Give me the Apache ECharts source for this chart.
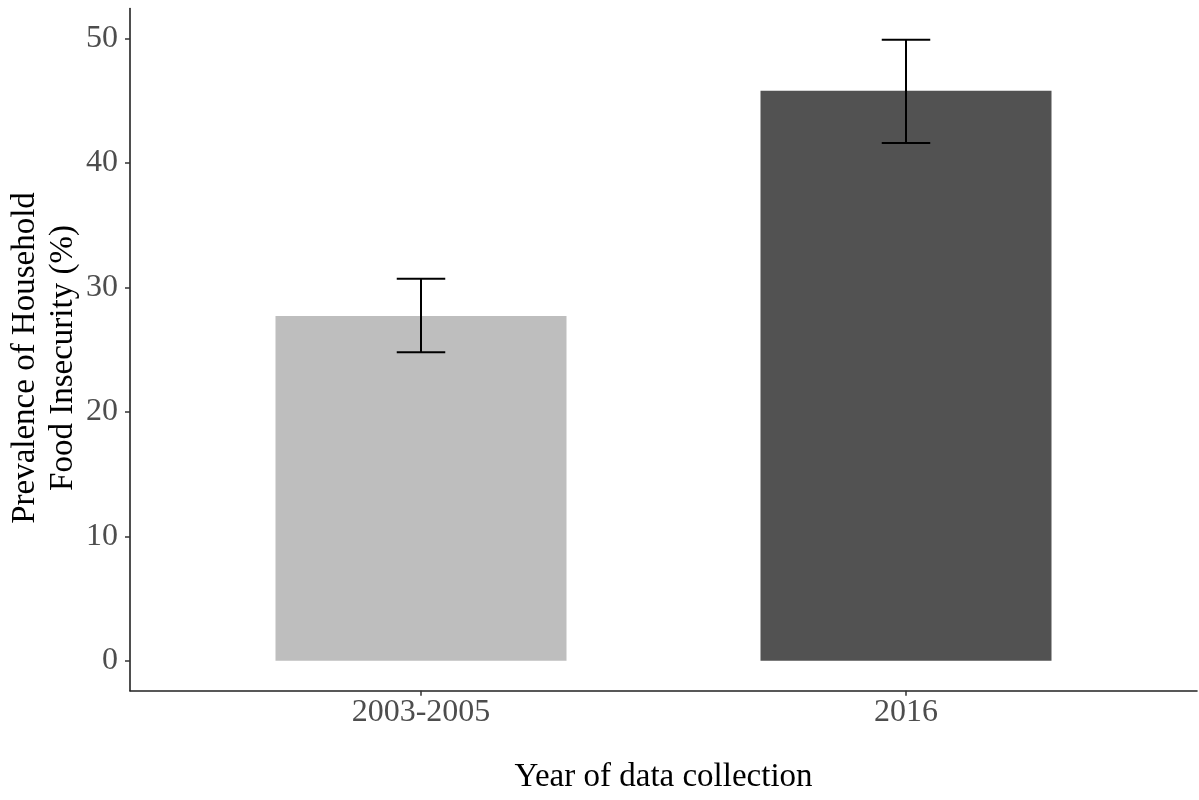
<!DOCTYPE html>
<html>
<head>
<meta charset="utf-8">
<script src="https://cdn.jsdelivr.net/npm/echarts@6/dist/echarts.min.js"></script>
<style>html,body{margin:0;padding:0;background:#fff}#c{width:1199px;height:800px}</style>
</head>
<body>
<div id="c"></div>
<script>
const categories = ['2003-2005', '2016'];
const values = [27.7, 45.8];
const errLow = [24.8, 41.6];
const errHigh = [30.7, 49.9];
const barColors = ['#bebebe', '#525252'];
const yTicks = [0, 10, 20, 30, 40, 50];
const xTitle = 'Year of data collection';
const yTitle = 'Prevalence of Household\nFood Insecurity (%)';

const chart = echarts.init(document.getElementById('c'));
const font = '"Liberation Serif", "Times New Roman", serif';
const xPos = categories.map((_, i) => i + 1);

chart.setOption({
  animation: false,
  backgroundColor: '#ffffff',
  grid: { left: 130, right: 2, top: 8.6, bottom: 109.3 },
  xAxis: {
    type: 'value', min: 0.4, max: 2.6,
    splitLine: { show: false },
    axisLine: { show: true, onZero: false, lineStyle: { color: '#222', width: 1.6 } },
    axisTick: { show: true, length: 5, customValues: xPos, lineStyle: { color: '#333', width: 1.5 } },
    axisLabel: {
      customValues: xPos, margin: 6, color: '#4d4d4d', fontFamily: font, fontSize: 32,
      formatter: v => categories[Math.round(v) - 1] || ''
    }
  },
  yAxis: {
    type: 'value', min: -2.4, max: 52.4,
    splitLine: { show: false },
    axisLine: { show: true, onZero: false, lineStyle: { color: '#222', width: 1.6 } },
    axisTick: { show: true, length: 5, customValues: yTicks, lineStyle: { color: '#333', width: 1.5 } },
    axisLabel: { customValues: yTicks, margin: 12, color: '#4d4d4d', fontFamily: font, fontSize: 32 }
  },
  series: [
    {
      type: 'bar',
      barWidth: 291,
      data: values.map((v, i) => ({ value: [xPos[i], v], itemStyle: { color: barColors[i] } }))
    },
    {
      type: 'custom',
      z: 5,
      data: values.map((v, i) => [xPos[i], errLow[i], errHigh[i]]),
      renderItem: function (params, api) {
        const x = api.value(0);
        const lo = api.coord([x, api.value(1)]);
        const hi = api.coord([x, api.value(2)]);
        const half = api.size([0.1, 0])[0] / 2;
        const st = { stroke: '#000', lineWidth: 2 };
        return {
          type: 'group',
          children: [
            { type: 'line', shape: { x1: lo[0], y1: lo[1], x2: hi[0], y2: hi[1] }, style: st },
            { type: 'line', shape: { x1: hi[0] - half, y1: hi[1], x2: hi[0] + half, y2: hi[1] }, style: st },
            { type: 'line', shape: { x1: lo[0] - half, y1: lo[1], x2: lo[0] + half, y2: lo[1] }, style: st }
          ]
        };
      }
    }
  ],
  graphic: [
    {
      type: 'text', x: 663.5, y: 777,
      style: { text: xTitle, fill: '#000', font: '33px ' + font, align: 'center', verticalAlign: 'middle' }
    },
    {
      type: 'text', x: 44, y: 358, rotation: Math.PI / 2,
      style: { text: yTitle, fill: '#000', font: '33px ' + font, align: 'center', verticalAlign: 'middle', lineHeight: 38 }
    }
  ]
});
</script>
</body>
</html>
